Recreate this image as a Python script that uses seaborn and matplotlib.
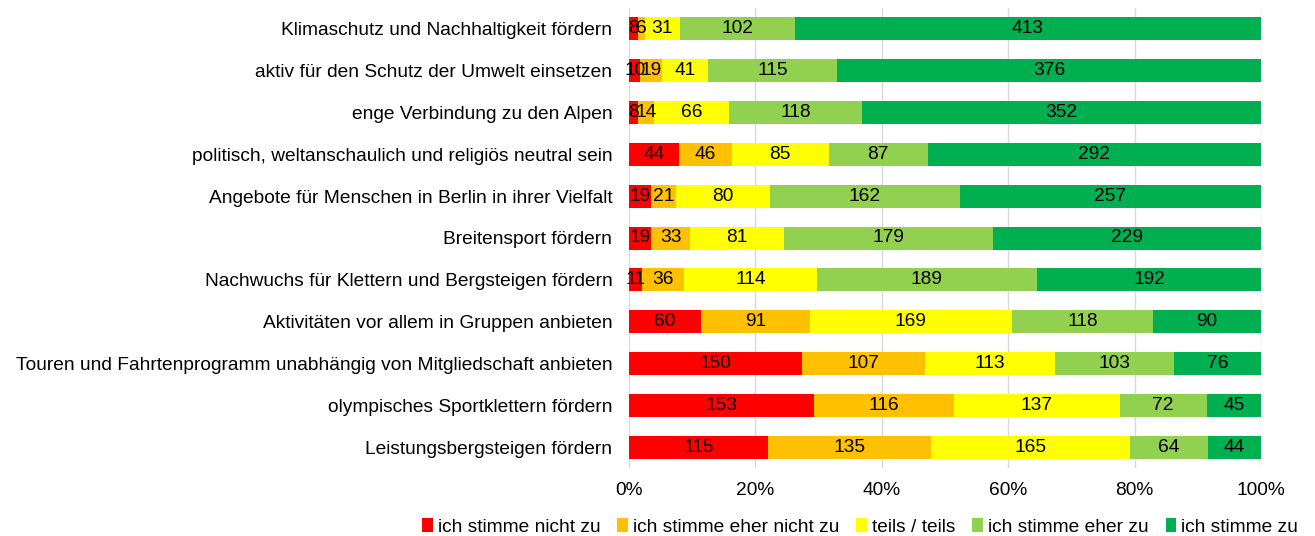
import numpy as np
import pandas as pd
import matplotlib
matplotlib.use("Agg")
import matplotlib.pyplot as plt
import seaborn as sns
from matplotlib.patches import Patch

categories = [
    "Klimaschutz und Nachhaltigkeit fördern",
    "aktiv für den Schutz der Umwelt einsetzen",
    "enge Verbindung zu den Alpen",
    "politisch, weltanschaulich und religiös neutral sein",
    "Angebote für Menschen in Berlin in ihrer Vielfalt",
    "Breitensport fördern",
    "Nachwuchs für Klettern und Bergsteigen fördern",
    "Aktivitäten vor allem in Gruppen anbieten",
    "Touren und Fahrtenprogramm unabhängig von Mitgliedschaft anbieten",
    "olympisches Sportklettern fördern",
    "Leistungsbergsteigen fördern",
]
series_names = ["ich stimme nicht zu", "ich stimme eher nicht zu", "teils / teils",
                "ich stimme eher zu", "ich stimme zu"]
nicht_zu = [8, 10, 8, 44, 19, 19, 11, 60, 150, 153, 115]
eher_nicht_zu = [6, 19, 14, 46, 21, 33, 36, 91, 107, 116, 135]
teils = [31, 41, 66, 85, 80, 81, 114, 169, 113, 137, 165]
eher_zu = [102, 115, 118, 87, 162, 179, 189, 118, 103, 72, 64]
zu = [413, 376, 352, 292, 257, 229, 192, 90, 76, 45, 44]
colors = ["#FF0000", "#FFC000", "#FFFF00", "#92D050", "#00B050"]
tick_labels = ["0%", "20%", "40%", "60%", "80%", "100%"]

sns.set_theme(style="white")
plt.rcParams["font.family"] = ["Liberation Sans", "DejaVu Sans"]
plt.rcParams["text.color"] = "black"
plt.rcParams["xtick.color"] = "black"
plt.rcParams["ytick.color"] = "black"

FS = 13.8

counts = np.array([nicht_zu, eher_nicht_zu, teils, eher_zu, zu], dtype=float)
totals = counts.sum(axis=0)
pct = counts / totals * 100
cum = np.cumsum(pct, axis=0)

fig = plt.figure(figsize=(13.15, 5.36), dpi=100)
ax = fig.add_axes([629 / 1315, 1 - 468 / 536, (1261 - 629) / 1315, (468 - 8) / 536])

for i in range(4, -1, -1):
    df = pd.DataFrame({"cat": categories, "val": cum[i]})
    sns.barplot(data=df, y="cat", x="val", color=colors[i], orient="h",
                width=0.55, ax=ax, saturation=1, linewidth=0, zorder=3)

for i in range(5):
    for j in range(len(categories)):
        center = cum[i, j] - pct[i, j] / 2
        ax.text(center, j, f"{int(counts[i, j])}", ha="center", va="center",
                fontsize=FS, color="black", zorder=5)

ax.set_xlim(0, 100)
ax.set_ylim(len(categories) - 0.5, -0.5)
ax.set_xticks([0, 20, 40, 60, 80, 100])
ax.set_xticklabels(tick_labels, fontsize=FS)
ax.tick_params(axis="y", labelsize=FS, length=0, pad=12, labelcolor="black")
ax.tick_params(axis="x", length=0, pad=10, labelcolor="black")
ax.set_xlabel("")
ax.set_ylabel("")
ax.grid(axis="x", color="#D9D9D9", linewidth=1, zorder=0)
for s in ax.spines.values():
    s.set_visible(False)

handles = [Patch(facecolor=c, edgecolor="none") for c in colors]
fig.legend(handles, series_names, loc="center", bbox_to_anchor=(860 / 1315, 1 - 527 / 536),
           ncol=5, frameon=False, fontsize=FS, handlelength=0.55, handleheight=0.7,
           handletextpad=0.25, columnspacing=0.9, borderaxespad=0)

fig.savefig("out.png", dpi=100)
